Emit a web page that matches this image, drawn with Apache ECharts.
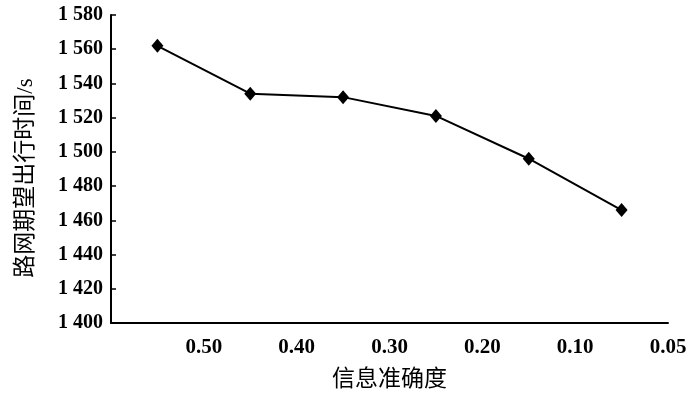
<!DOCTYPE html>
<html>
<head>
<meta charset="utf-8">
<script src="https://cdn.jsdelivr.net/npm/echarts@6/dist/echarts.min.js"></script>
<style>
  html, body { margin: 0; padding: 0; background: #fff; }
  #chart { width: 700px; height: 406px; }
</style>
</head>
<body>
<div id="chart"></div>
<script>
// accuracy labels, shown at the band boundaries like the original
const tickLabels = ["0.50", "0.40", "0.30", "0.20", "0.10", "0.05"];
// expected network travel time, s
const travelTime = [1562, 1534, 1532, 1521, 1496, 1466];

const font = "'Liberation Serif', 'Times New Roman', 'Noto Sans CJK SC', serif";

const chart = echarts.init(document.getElementById("chart"));

const option = {
  animation: false,
  textStyle: { fontFamily: font, color: "#000" },
  grid: { left: 111, right: 32, top: 15, bottom: 83 },
  xAxis: [
    {
      // data axis: one band per point, ticks at band edges
      type: "category",
      data: tickLabels,
      boundaryGap: true,
      axisLine: { lineStyle: { color: "#000", width: 2 } },
      axisTick: { inside: true, length: 5, lineStyle: { color: "#000", width: 1.5 } },
      axisLabel: { show: false },
      splitLine: { show: false },
    },
    {
      // label axis: puts the text under the band edges
      type: "value",
      position: "bottom",
      min: 0,
      max: 6,
      interval: 1,
      axisLine: { show: false },
      axisTick: { show: false },
      splitLine: { show: false },
      axisLabel: {
        margin: 14,
        fontSize: 21,
        fontWeight: "bold",
        fontFamily: font,
        color: "#000",
        formatter: (v) => (v === 0 ? "" : tickLabels[v - 1]),
      },
      name: "信息准确度",
      nameLocation: "middle",
      nameGap: 45,
      nameTextStyle: { fontSize: 23, fontFamily: font, color: "#000" },
    },
  ],
  yAxis: {
    type: "value",
    min: 1400,
    max: 1580,
    interval: 20,
    axisLine: { show: true, lineStyle: { color: "#000", width: 2 } },
    axisTick: { show: true, inside: true, length: 5, lineStyle: { color: "#000", width: 1.5 } },
    splitLine: { show: false },
    axisLabel: {
      margin: 8,
      fontSize: 20,
      fontWeight: "bold",
      fontFamily: font,
      color: "#000",
      formatter: (v) => String(v).replace(/\B(?=(\d{3})+(?!\d))/g, " "),
    },
    name: "路网期望出行时间/s",
    nameLocation: "middle",
    nameRotate: 90,
    nameGap: 74,
    nameTextStyle: { fontSize: 23, fontFamily: font, color: "#000", padding: [0, 18, 0, 0] },
  },
  series: [
    {
      type: "line",
      xAxisIndex: 0,
      data: travelTime,
      symbol: "diamond",
      symbolSize: [12, 14],
      itemStyle: { color: "#000" },
      lineStyle: { color: "#000", width: 2 },
    },
  ],
};

chart.setOption(option);
</script>
</body>
</html>
